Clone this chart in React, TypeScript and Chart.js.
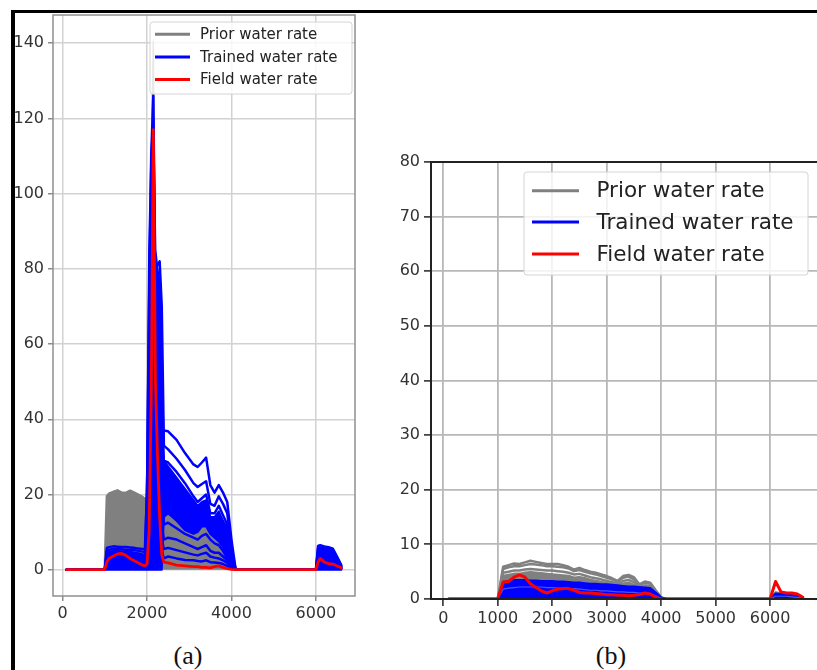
import React, { useEffect, useRef } from "react";
import { Chart, registerables } from "chart.js";

Chart.register(...registerables);

// ---------------- shared ----------------
const legendLabels = ["Prior water rate", "Trained water rate", "Field water rate"];
const legendColors = ["#808080", "#0000ff", "#ff0000"];
const GRAY = "#808080";
const BLUE = "#0000ff";
const BLUE_LIGHT = "#4a55ff";
const RED = "#ff0000";

// ---------------- panel (a) ----------------
const daysA = [
  100, 1000,
  1050, 1100, 1200, 1300, 1400, 1500, 1600, 1700, 1800, 1900, 1950,
  2000, 2050, 2100, 2150, 2200, 2250, 2300, 2350, 2400,
  2500, 2700, 2900, 3100, 3200, 3300, 3400, 3500, 3600, 3700, 3800, 3900, 4000, 4100,
  6000, 6050, 6100, 6200, 6300, 6400, 6500, 6600,
];
const priorTopA = [
  0, 0,
  19.5, 20.2, 20.7, 21.1, 20.5, 20.4, 21.0, 20.5, 19.9, 19.3, 18.8,
  19.0, 19.2, 18.5, 17.5, 17.0, 16.5, 16.2, 15.8, 15.5,
  15.3, 14.2, 12.5, 10.8, 11.2, 12.8, 12.2, 10.2, 9.0, 7.6, 6.0, 3.5, 1.0, 0,
  0, 3.0, 4.0, 3.8, 3.6, 3.3, 2.0, 0.8,
];
const priorPeakA = [
  0, 0,
  15, 15.5, 16, 16, 15.5, 15.5, 15.5, 15, 14.5, 14, 13.5,
  20, 60, 105, 140.5, 75, 40, 22, 15, 12,
  11.5, 10.5, 9.5, 8.5, 8.5, 9.5, 9, 7.5, 6.5, 5.5, 4.5, 2.5, 0.4, 0,
  0, 2, 3, 2.8, 2.6, 2.4, 1.5, 0.6,
];
const trainedBandLowA = [
  0, 0,
  0, 0, 0, 0, 0, 0, 0, 0, 0, 0, 0,
  0, 0, 0, 0, 0, 0, 0, 0, 14,
  15.0, 13.0, 10.5, 9.5, 10.0, 11.5, 11.5, 9.5, 8.5, 7.5, 6.0, 3.5, 0.8, 0,
  0, 0, 0, 0, 0, 0, 0, 0,
];
const trainedBandHighA = [
  0, 0,
  4.3, 4.7, 5.0, 5.0, 4.9, 4.8, 4.8, 4.6, 4.4, 4.1, 4.0,
  25, 85, 110, 120, 85, 80, 76, 60, 29,
  27.5, 24.5, 21.5, 18.5, 17.0, 18.0, 18.5, 14.0, 14.0, 15.5, 13.0, 11.0, 3.5, 0,
  0, 5.0, 5.5, 5.3, 5.0, 4.6, 2.5, 0.8,
];
const trainedTopA = [
  0, 0,
  5.8, 6.0, 6.2, 6.1, 6.0, 6.0, 5.9, 5.8, 5.6, 5.5, 5.4,
  20, 70, 110, 126, 68, 45, 39, 37.5, 37,
  36.8, 34.5, 31.0, 28.0, 27.3, 28.5, 29.8, 22.5, 20.5, 22.5, 20.5, 18.0, 8.0, 0,
  0, 6.3, 6.5, 6.2, 6.0, 5.6, 3.5, 1.2,
];
const trainedSecondA = [
  0, 0,
  5.0, 5.3, 5.5, 5.5, 5.4, 5.3, 5.3, 5.2, 5.0, 4.8, 4.6,
  8, 40, 70, 80, 81, 81, 82, 70, 33,
  32.0, 29.5, 26.5, 23.0, 22.0, 22.8, 23.5, 17.5, 17.0, 19.5, 17.5, 15.0, 6.0, 0,
  0, 5.6, 5.9, 5.7, 5.5, 5.1, 3.0, 1.0,
];
const trainedThirdA = [
  0, 0,
  3.5, 3.8, 4.0, 4.0, 3.9, 3.8, 3.7, 3.6, 3.4, 3.2, 3.0,
  5, 30, 60, 75, 65, 55, 45, 35, 29,
  28.5, 26.0, 23.0, 19.5, 18.0, 19.0, 20.0, 15.0, 15.0, 17.0, 14.5, 12.0, 4.5, 0,
  0, 4.5, 4.8, 4.6, 4.4, 4.0, 2.2, 0.7,
];
const trainedMidA = [
  0, 0,
  3.0, 3.3, 3.5, 3.5, 3.4, 3.3, 3.2, 3.1, 2.9, 2.7, 2.5,
  4, 25, 50, 62, 55, 42, 30, 20, 12,
  12.5, 11.0, 9.5, 8.5, 8.0, 9.0, 9.5, 8.0, 7.0, 6.5, 5.0, 3.0, 0.8, 0,
  0, 3.5, 3.8, 3.6, 3.4, 3.1, 1.8, 0.6,
];
const trainedFourthA = [
  0, 0,
  2.5, 2.8, 3.0, 3.0, 2.9, 2.8, 2.7, 2.6, 2.4, 2.2, 2.0,
  3, 20, 40, 50, 45, 30, 20, 12, 8,
  8.5, 8.0, 7.0, 6.0, 5.5, 6.0, 6.5, 5.0, 4.5, 4.5, 3.5, 2.5, 1.0, 0,
  0, 2.5, 2.8, 2.6, 2.5, 2.3, 1.3, 0.4,
];
const trainedLowA = [
  0, 0,
  1.8, 2.0, 2.2, 2.2, 2.1, 2.0, 2.0, 1.9, 1.8, 1.6, 1.5,
  2.5, 15, 32, 42, 38, 25, 15, 8, 5.5,
  5.8, 5.2, 4.6, 4.0, 3.8, 4.2, 4.5, 3.5, 3.2, 3.0, 2.5, 1.8, 0.6, 0,
  0, 1.8, 2.0, 1.9, 1.8, 1.6, 1.0, 0.3,
];
const trainedFifthA = [
  0, 0,
  1.2, 1.4, 1.5, 1.5, 1.4, 1.4, 1.3, 1.3, 1.2, 1.1, 1.0,
  2, 10, 25, 35, 30, 20, 10, 5, 3,
  3.5, 3.0, 2.6, 2.5, 2.3, 2.2, 2.5, 2.0, 1.9, 1.8, 1.5, 1.0, 0.4, 0,
  0, 1.0, 1.2, 1.1, 1.0, 0.9, 0.6, 0.2,
];
const fieldA = [
  0, 0,
  2.0, 3.0, 3.6, 4.2, 4.3, 3.8, 3.0, 2.4, 1.8, 1.2, 1.0,
  1.5, 10, 45, 117, 50, 30, 14, 4, 2,
  1.8, 1.2, 1.0, 0.8, 0.8, 0.6, 0.6, 0.5, 0.8, 1.0, 0.6, 0.3, 0.1, 0,
  0, 2.0, 3.0, 2.0, 1.6, 1.5, 1.0, 0.5,
];
const xTicksA = [0, 2000, 4000, 6000];
const yTicksA = [0, 20, 40, 60, 80, 100, 120, 140];

// ---------------- panel (b) ----------------
const daysB = [
  100, 1000,
  1100, 1200, 1300, 1400, 1500, 1600, 1700, 1800, 1900, 2000,
  2100, 2200, 2300, 2400, 2500, 2600, 2700, 2800, 2900, 3000,
  3100, 3200, 3300, 3400, 3500, 3600, 3700, 3800, 3900, 4000, 4100,
  6000, 6100, 6200, 6300, 6400, 6500, 6600,
];
const priorTopB = [
  0, 0,
  5.9, 6.2, 6.5, 6.4, 6.7, 7.0, 6.8, 6.6, 6.4, 6.4,
  6.4, 6.2, 5.9, 5.4, 5.7, 5.3, 5.0, 4.8, 4.5, 4.2,
  3.8, 3.3, 4.2, 4.4, 4.0, 2.7, 3.2, 3.0, 1.6, 0.3, 0,
  0, 1.2, 1.0, 1.0, 0.9, 0.6, 0.2,
];
const priorSecondB = [
  0, 0,
  5.5, 5.8, 6.0, 6.0, 6.2, 6.4, 6.3, 6.2, 6.0, 6.0,
  5.9, 5.8, 5.6, 5.1, 5.3, 5.0, 4.7, 4.5, 4.2, 3.9,
  3.6, 3.1, 3.9, 4.1, 3.6, 2.5, 3.0, 2.8, 1.4, 0.25, 0,
  0, 1.1, 1.0, 1.0, 0.9, 0.6, 0.2,
];
const priorMidB = [
  0, 0,
  4.8, 5.0, 5.2, 5.2, 5.4, 5.5, 5.4, 5.3, 5.2, 5.2,
  5.1, 5.0, 4.8, 4.5, 4.6, 4.3, 4.0, 3.8, 3.6, 3.3,
  3.1, 2.7, 3.3, 3.5, 3.1, 2.2, 2.5, 2.4, 1.2, 0.2, 0,
  0, 1.1, 0.9, 0.9, 0.8, 0.5, 0.2,
];
const priorFillB = [
  0, 0,
  4.2, 4.4, 4.6, 4.6, 4.8, 4.9, 4.8, 4.7, 4.6, 4.5,
  4.4, 4.3, 4.2, 3.9, 4.0, 3.8, 3.5, 3.3, 3.1, 2.9,
  2.7, 2.4, 2.8, 3.0, 2.6, 2.0, 2.2, 2.1, 1.1, 0.2, 0,
  0, 1.0, 0.9, 0.9, 0.8, 0.5, 0.2,
];
const trainedFillB = [
  0, 0,
  3.1, 3.3, 3.5, 3.5, 3.5, 3.4, 3.4, 3.3, 3.3, 3.3,
  3.2, 3.2, 3.1, 3.0, 3.0, 2.9, 2.8, 2.8, 2.7, 2.7,
  2.6, 2.5, 2.4, 2.3, 2.3, 2.2, 2.1, 2.0, 1.2, 0.3, 0,
  0, 1.0, 0.9, 0.9, 0.8, 0.6, 0.2,
];
const trainedStreakB = [
  0, 0,
  1.8, 2.0, 2.1, 2.2, 2.2, 2.2, 2.2, 2.2, 2.1, 2.1,
  2.0, 2.0, 1.9, 1.9, 1.8, 1.7, 1.6, 1.6, 1.5, 1.5,
  1.4, 1.3, 1.3, 1.2, 1.2, 1.1, 1.1, 1.0, 0.6, 0.1, 0,
  0, 0.5, 0.5, 0.5, 0.4, 0.3, 0.1,
];
const fieldB = [
  0, 0,
  3.1, 3.2, 4.0, 4.4, 4.0, 2.8, 2.1, 1.5, 1.1, 1.5,
  1.8, 1.9, 1.9, 1.6, 1.2, 1.1, 1.1, 1.0, 0.9, 0.8,
  0.8, 0.7, 0.7, 0.6, 0.7, 0.8, 1.1, 0.9, 0.3, 0, 0,
  0, 3.2, 1.3, 1.1, 1.1, 0.9, 0.3,
];
const xTicksB = [0, 1000, 2000, 3000, 4000, 5000, 6000];
const yTicksB = [0, 10, 20, 30, 40, 50, 60, 70, 80];

// ---------------- helpers ----------------
const pts = (xs: number[], ys: number[]) => xs.map((x, i) => ({ x, y: ys[i] }));

function mk(label: string, xs: number[], ys: number[], color: string, width: number, extra: any = {}) {
  return {
    label,
    data: pts(xs, ys),
    borderColor: color,
    backgroundColor: color,
    borderWidth: width,
    pointRadius: 0,
    pointHoverRadius: 0,
    tension: 0,
    fill: false,
    borderJoinStyle: "round",
    borderCapStyle: "round",
    ...extra,
  };
}

type LegendCfg = {
  x: number; y: number; w: number; h: number; rows: number[];
  font: number; h0: number; h1: number; tx: number; lw: number;
};

function makeChrome(spineColor: string, spineWidth: number, legend: LegendCfg) {
  return {
    id: "chrome",
    afterDatasetsDraw(chart: any) {
      const { ctx, chartArea: a } = chart;
      ctx.save();
      ctx.strokeStyle = spineColor;
      ctx.lineWidth = spineWidth;
      ctx.lineCap = "square";
      ctx.strokeRect(a.left, a.top, a.right - a.left, a.bottom - a.top);
      ctx.restore();
    },
    afterDraw(chart: any) {
      const ctx = chart.ctx;
      const L = legend;
      ctx.save();
      const r = 3;
      ctx.beginPath();
      ctx.moveTo(L.x + r, L.y);
      ctx.lineTo(L.x + L.w - r, L.y);
      ctx.arcTo(L.x + L.w, L.y, L.x + L.w, L.y + r, r);
      ctx.lineTo(L.x + L.w, L.y + L.h - r);
      ctx.arcTo(L.x + L.w, L.y + L.h, L.x + L.w - r, L.y + L.h, r);
      ctx.lineTo(L.x + r, L.y + L.h);
      ctx.arcTo(L.x, L.y + L.h, L.x, L.y + L.h - r, r);
      ctx.lineTo(L.x, L.y + r);
      ctx.arcTo(L.x, L.y, L.x + r, L.y, r);
      ctx.closePath();
      ctx.fillStyle = "rgba(255,255,255,0.82)";
      ctx.fill();
      ctx.strokeStyle = "#d4d4d4";
      ctx.lineWidth = 1;
      ctx.stroke();
      ctx.font = `${L.font}px "DejaVu Sans"`;
      ctx.textBaseline = "middle";
      ctx.textAlign = "left";
      legendLabels.forEach((lab, i) => {
        const yy = L.rows[i];
        ctx.strokeStyle = legendColors[i];
        ctx.lineWidth = L.lw;
        ctx.lineCap = "butt";
        ctx.beginPath();
        ctx.moveTo(L.h0, yy);
        ctx.lineTo(L.h1, yy);
        ctx.stroke();
        ctx.fillStyle = "#222";
        ctx.fillText(lab, L.tx, yy + 1);
      });
      ctx.restore();
    },
  };
}

function axis(min: number, max: number, ticks: number[], fixed: any, gridColor: string, gridWidth: number,
  tickColor: string, tickLen: number, fontSize: number, pad: number) {
  return {
    type: "linear",
    min,
    max,
    bounds: "data",
    afterBuildTicks: (s: any) => { s.ticks = ticks.map((v) => ({ value: v })); },
    afterFit: fixed,
    border: { display: false },
    grid: { color: gridColor, lineWidth: gridWidth, tickColor, tickLength: tickLen, tickWidth: 1.5, drawTicks: true },
    ticks: {
      color: "#333",
      font: { family: "DejaVu Sans", size: fontSize },
      padding: pad,
      maxRotation: 0,
      autoSkip: false,
      callback: (v: any) => String(v),
    },
  };
}

function withOrder(ds: any[]) {
  ds.forEach((d, i) => { d.order = -i; });
  return ds;
}

function buildA() {
  const datasets = withOrder([
    mk(legendLabels[0], daysA, priorTopA, GRAY, 2.5, { fill: "origin" }),
    mk(legendLabels[0], daysA, priorPeakA, GRAY, 1.5),
    mk(legendLabels[1], daysA, trainedBandLowA, BLUE, 2),
    mk(legendLabels[1], daysA, trainedBandHighA, BLUE, 2, { fill: 2 }),
    mk(legendLabels[1], daysA, trainedFifthA, BLUE, 2.5),
    mk(legendLabels[1], daysA, trainedLowA, BLUE, 2.5),
    mk(legendLabels[1], daysA, trainedFourthA, BLUE, 2.5),
    mk(legendLabels[1], daysA, trainedMidA, BLUE, 2.5),
    mk(legendLabels[1], daysA, trainedThirdA, BLUE, 2.5),
    mk(legendLabels[1], daysA, trainedSecondA, BLUE, 2.5),
    mk(legendLabels[1], daysA, trainedTopA, BLUE, 2.5),
    mk(legendLabels[2], daysA, fieldA, RED, 2.8),
  ]);
  return {
    type: "line",
    data: { datasets },
    options: {
      responsive: false,
      animation: false,
      devicePixelRatio: 1,
      events: [],
      layout: { autoPadding: false, padding: { left: 0, top: 15, right: 15, bottom: 0 } },
      plugins: { legend: { display: false }, tooltip: { enabled: false } },
      scales: {
        x: axis(-225, 6925, xTicksA, (s: any) => { s.height = 44; }, "#d2d2d2", 1.5, "#8c8c8c", 5, 16, 3),
        y: axis(-7, 147.5, yTicksA, (s: any) => { s.width = 53; }, "#d2d2d2", 1.5, "#8c8c8c", 5, 16, 4),
      },
    },
    plugins: [makeChrome("#8f8f8f", 1.5, {
      x: 150, y: 22, w: 202, h: 72, rows: [34.3, 57, 79.5], font: 15, h0: 155, h1: 190, tx: 200, lw: 3,
    })],
  };
}

function buildB() {
  const datasets = withOrder([
    mk(legendLabels[0], daysB, priorFillB, GRAY, 2.5, { fill: "origin" }),
    mk(legendLabels[0], daysB, priorMidB, GRAY, 2.5),
    mk(legendLabels[0], daysB, priorSecondB, GRAY, 2.5),
    mk(legendLabels[0], daysB, priorTopB, GRAY, 2.5),
    mk(legendLabels[1], daysB, trainedFillB, BLUE, 2, { fill: "origin" }),
    mk(legendLabels[1], daysB, trainedStreakB, BLUE_LIGHT, 1.2),
    mk(legendLabels[2], daysB, fieldB, RED, 3),
  ]);
  return {
    type: "line",
    data: { datasets },
    options: {
      responsive: false,
      animation: false,
      devicePixelRatio: 1,
      events: [],
      layout: { autoPadding: false, padding: { left: 0, top: 22, right: 10.5, bottom: 0 } },
      plugins: { legend: { display: false }, tooltip: { enabled: false } },
      scales: {
        x: axis(-225, 6925, xTicksB, (s: any) => { s.height = 41; }, "#b8b8b8", 1.8, "#222", 7, 16, 3),
        y: axis(0, 80, yTicksB, (s: any) => { s.width = 60; }, "#b8b8b8", 1.8, "#222", 7, 16, 4),
      },
    },
    plugins: [makeChrome("#222", 2, {
      x: 153, y: 32, w: 284, h: 103, rows: [50.7, 82, 114], font: 21.5, h0: 161, h1: 208, tx: 225.5, lw: 3,
    })],
  };
}

function ChartCanvas({ build, left, top, width, height }: any) {
  const ref = useRef<HTMLCanvasElement>(null);
  useEffect(() => {
    const chart = new Chart(ref.current as HTMLCanvasElement, build() as any);
    return () => chart.destroy();
  }, [build]);
  return (
    <canvas
      ref={ref}
      width={width}
      height={height}
      style={{ position: "absolute", left, top, width, height }}
    />
  );
}

const captionStyle: any = {
  position: "absolute",
  width: 100,
  textAlign: "center",
  fontFamily: '"Liberation Serif", "DejaVu Serif", serif',
  fontSize: 26,
  lineHeight: "26px",
  color: "#111",
};

export default function App() {
  return (
    <div style={{ position: "absolute", left: 0, top: 0, width: 817, height: 670, overflow: "hidden", background: "#fff" }}>
      <ChartCanvas build={buildA} left={0} top={0} width={370} height={640} />
      <ChartCanvas build={buildB} left={371} top={140} width={460} height={500} />
      <div style={{ position: "absolute", left: 11, top: 10, width: 806, height: 3, background: "#000" }} />
      <div style={{ position: "absolute", left: 11, top: 10, width: 4, height: 660, background: "#000" }} />
      <div style={{ ...captionStyle, left: 138, top: 643 }}>(a)</div>
      <div style={{ ...captionStyle, left: 561, top: 643 }}>(b)</div>
    </div>
  );
}
